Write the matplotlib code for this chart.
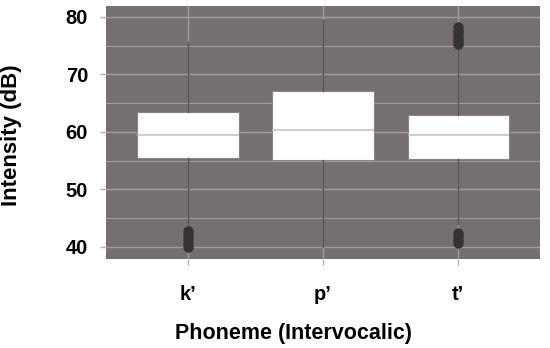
import numpy as np
import matplotlib.pyplot as plt

# values
phonemes = ["k\u2019", "p\u2019", "t\u2019"]
q1 = [55.5, 55.1, 55.3]
median = [59.5, 60.3, 59.5]
q3 = [63.5, 67.1, 63.0]
whisker_low = [43.6, 40.0, 44.0]
whisker_high = [75.7, 79.4, 74.6]
outliers = [
    [39.9, 40.6, 41.3, 42.0, 42.7],
    [],
    [40.6, 41.2, 41.8, 42.4, 75.2, 75.8, 76.4, 77.0, 77.6, 78.2],
]

panel_col = "#766f6f"
grid_col = "#a29c9c"

plt.rcParams["font.family"] = ["Liberation Sans", "DejaVu Sans"]
plt.rcParams["font.weight"] = "bold"

fig = plt.figure(figsize=(5.5, 3.48), dpi=100)
ax = fig.add_axes([0.193, 0.256, 0.789, 0.727])
ax.set_facecolor(panel_col)

stats = []
for i, name in enumerate(phonemes):
    stats.append({
        "label": name, "q1": q1[i], "med": median[i], "q3": q3[i],
        "whislo": whisker_low[i], "whishi": whisker_high[i],
        "fliers": outliers[i],
    })

ax.bxp(stats, positions=[1, 2, 3], widths=0.75, patch_artist=True,
       showcaps=False, zorder=3,
       boxprops=dict(facecolor="white", edgecolor="#8a8484", linewidth=0.8),
       medianprops=dict(color="#c8c4c4", linewidth=1.2),
       whiskerprops=dict(color="#565050", linewidth=1.0),
       flierprops=dict(marker="o", markerfacecolor="#333333",
                       markeredgecolor="#333333", markersize=6.5))

ax.set_xlim(0.393, 3.607)
ax.set_ylim(37.9, 81.9)
ax.set_yticks([40, 50, 60, 70, 80])
ax.set_yticks([45, 55, 65, 75], minor=True)
ax.grid(True, which="major", color=grid_col, linewidth=1.0, zorder=0)
ax.grid(True, which="minor", axis="y", color=grid_col, linewidth=0.8, zorder=0)
ax.set_axisbelow(True)

for s in ax.spines.values():
    s.set_visible(False)

ax.tick_params(axis="both", which="major", color="#b0b0b0", length=4,
               width=1, labelsize=14.5, labelcolor="black")
ax.tick_params(axis="y", which="minor", length=0)
ax.tick_params(axis="x", pad=15)
ax.tick_params(axis="y", pad=9)

ax.set_xlabel("Phoneme (Intervocalic)", fontsize=15.5, fontweight="bold")
ax.set_ylabel("Intensity (dB)", fontsize=16, fontweight="bold")
ax.xaxis.set_label_coords(0.431, -0.255)
ax.yaxis.set_label_coords(-0.193, 0.49)

fig.savefig("out.png", dpi=100)
